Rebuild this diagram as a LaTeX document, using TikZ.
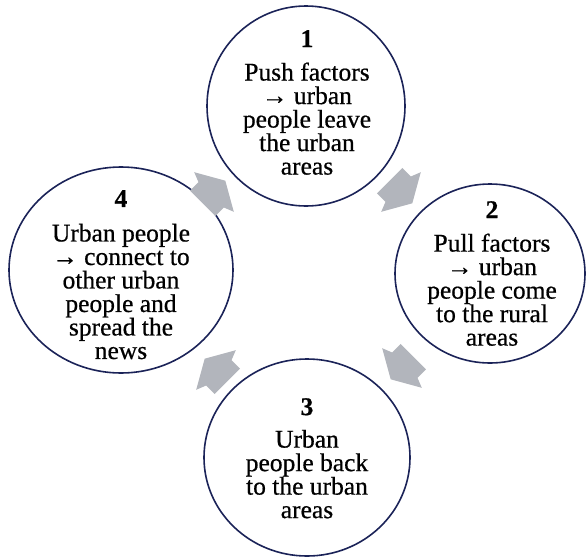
\documentclass[tikz,border=0pt]{standalone}
\usepackage{fontspec}
\setmainfont{Liberation Serif}[FakeBold=0.6]
\usetikzlibrary{shapes.geometric}
\definecolor{ringblue}{HTML}{1B2358}
\definecolor{arrowgray}{HTML}{B2B5BC}
\begin{document}
\begin{tikzpicture}[x=1pt,y=-1pt,
  ring/.style={draw=ringblue, line width=1.6pt, ellipse, inner sep=0pt, fill=white},
  txt/.style={align=center, inner sep=0pt, anchor=north, font=\fontsize{25.5}{23.5}\selectfont},
  blockarrow/.pic={\fill[arrowgray] (-16,-18) -- (-4,-18) -- (0,-28) -- (16,0) -- (0,28) -- (-4,18) -- (-16,18) -- cycle;}]
\useasboundingbox (0,0) rectangle (586,557);
% rings
\node[ring, minimum width=198pt, minimum height=200pt] (c1) at (306,106) {};
\node[ring, minimum width=190pt, minimum height=179pt] (c2) at (490,273.5) {};
\node[ring, minimum width=206pt, minimum height=197pt] (c3) at (307,457.5) {};
\node[ring, minimum width=224pt, minimum height=206pt] (c4) at (121,270) {};
% texts
\node[txt] (t1) at (307,30) {\textbf{1}\\[10pt]Push factors\\→ urban\\people leave\\the urban\\areas};
\node[txt] (t2) at (492,201) {\textbf{2}\\[10pt]Pull factors\\→ urban\\people come\\to the rural\\areas};
\node[txt] (t3) at (307,398) {\textbf{3}\\[9pt]Urban\\people back\\to the urban\\areas};
\node[txt] (t4) at (121,190) {\textbf{4}\\[11pt]Urban people\\→ connect to\\other urban\\people and\\spread the\\news};
% cycle arrows
\coordinate (a41) at (214,192);
\coordinate (a12) at (401,192);
\coordinate (a23) at (402,368);
\coordinate (a34) at (216,370);
\pic[rotate=45] at (a41) {blockarrow};
\pic[rotate=-45] at (a12) {blockarrow};
\pic[rotate=-135] at (a23) {blockarrow};
\pic[rotate=135] at (a34) {blockarrow};
\end{tikzpicture}
\end{document}
